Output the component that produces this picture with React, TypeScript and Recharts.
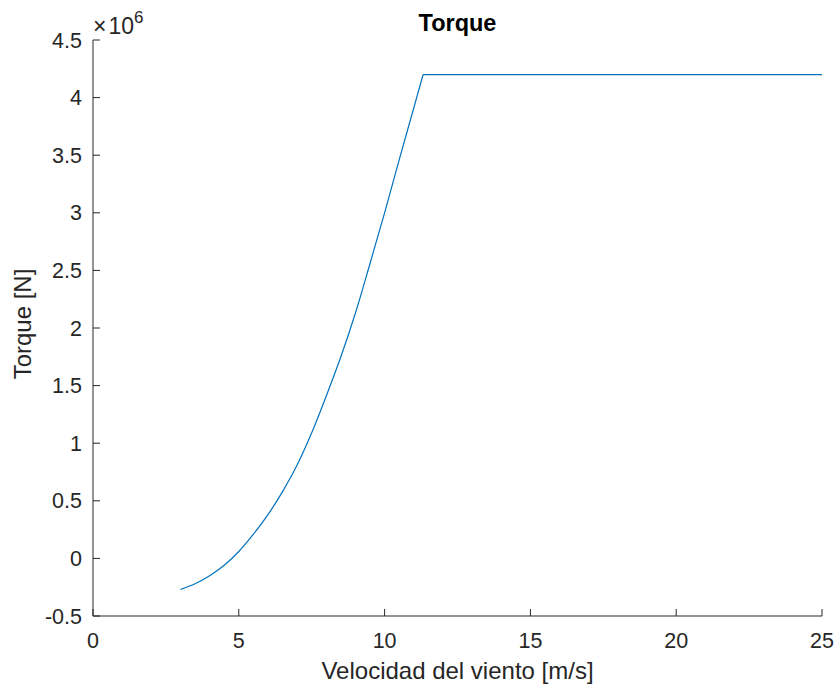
import React from "react";
import {LineChart, Line, XAxis, YAxis, Customized} from "recharts";

// wind speed [m/s] and torque [N], rising part of the curve
const windSpeed = [3, 3.5, 4, 4.5, 5, 5.5, 6, 6.5, 7, 7.5, 8, 8.5, 9, 9.5, 10, 10.5, 11, 11.32];
const torque = [
	-270000, -220000, -150000, -60000, 60000, 210000, 380000, 580000, 810000, 1090000, 1410000, 1750000, 2130000,
	2560000, 3000000, 3460000, 3910000, 4200000,
];
// rated region (constant torque)
const ratedSpeed = [11.32, 25];
const ratedTorque = [4200000, 4200000];

const xTicks = [0, 5, 10, 15, 20, 25];
const yTicks = [-500000, 0, 500000, 1000000, 1500000, 2000000, 2500000, 3000000, 3500000, 4000000, 4500000];

const ramp = windSpeed.map((v, i) => ({v, t: torque[i]}));
const rated = ratedSpeed.map((v, i) => ({v, t: ratedTorque[i]}));

const INK = "#262626";
const FONT = "'Liberation Sans', Arial, sans-serif";
const TICK = 7;

const fmtY = (val: number) => String(val / 1e6);

function BottomTick({x, y, payload}: any) {
	const axisY = y - 17;
	return (
		<g>
			<line x1={x} y1={axisY} x2={x} y2={axisY - TICK} stroke={INK} />
			<text x={x} y={y} dy='0.71em' textAnchor='middle' fill={INK} fontSize={21.5} fontFamily={FONT}>
				{payload.value}
			</text>
		</g>
	);
}

function TopTick({x, y}: any) {
	return <line x1={x} y1={y} x2={x} y2={y + TICK} stroke={INK} />;
}

function LeftTick({x, y, payload}: any) {
	const axisX = x + 11;
	return (
		<g>
			<line x1={axisX} y1={y} x2={axisX + TICK} y2={y} stroke={INK} />
			<text x={x} y={y} dy='0.355em' textAnchor='end' fill={INK} fontSize={21.5} fontFamily={FONT}>
				{fmtY(payload.value)}
			</text>
		</g>
	);
}

function RightTick({x, y}: any) {
	return <line x1={x} y1={y} x2={x - TICK} y2={y} stroke={INK} />;
}

function Extras() {
	return (
		<g fontFamily={FONT} fill={INK}>
			<text x={457.5} y={31} textAnchor='middle' fontSize={23.5} fontWeight='bold' fill='#000'>
				Torque
			</text>
			<text x={93} y={34} fontSize={23}>
				<tspan>×</tspan>
				<tspan dx={2}>10</tspan>
				<tspan dy={-11} fontSize={17}>
					6
				</tspan>
			</text>
			<text x={457.5} y={679} textAnchor='middle' fontSize={24}>
				Velocidad del viento [m/s]
			</text>
			<text x={31} y={324} textAnchor='middle' fontSize={24} transform='rotate(-90 31 324)'>
				Torque [N]
			</text>
		</g>
	);
}

export default function App() {
	return (
		<div style={{position: "absolute", left: 0, top: 0, background: "#fff"}}>
			<LineChart width={840} height={692} margin={{top: 40, right: 18, bottom: 46, left: 33}}>
				<XAxis
					dataKey='v'
					type='number'
					domain={[0, 25]}
					ticks={xTicks}
					interval={0}
					height={30}
					tickSize={0}
					tickMargin={17}
					tickLine={false}
					axisLine={{stroke: INK}}
					tick={<BottomTick />}
					allowDuplicatedCategory={false}
				/>
				<XAxis
					xAxisId='top'
					orientation='top'
					dataKey='v'
					type='number'
					domain={[0, 25]}
					ticks={xTicks}
					interval={0}
					height={0}
					tickSize={0}
					tickMargin={0}
					tickLine={false}
					axisLine={{stroke: INK}}
					tick={<TopTick />}
				/>
				<YAxis
					type='number'
					domain={[-500000, 4500000]}
					ticks={yTicks}
					interval={0}
					width={60}
					tickSize={0}
					tickMargin={11}
					tickLine={false}
					axisLine={{stroke: INK}}
					tick={<LeftTick />}
				/>
				<YAxis
					yAxisId='right'
					orientation='right'
					type='number'
					domain={[-500000, 4500000]}
					ticks={yTicks}
					interval={0}
					width={0}
					tickSize={0}
					tickMargin={0}
					tickLine={false}
					axisLine={{stroke: INK}}
					tick={<RightTick />}
				/>
				<Line
					data={ramp}
					type='monotone'
					dataKey='t'
					stroke='#0072BD'
					strokeWidth={1.2}
					dot={false}
					isAnimationActive={false}
				/>
				<Line
					data={rated}
					type='linear'
					dataKey='t'
					stroke='#0072BD'
					strokeWidth={1.2}
					dot={false}
					isAnimationActive={false}
				/>
				<Customized component={Extras} />
			</LineChart>
		</div>
	);
}
